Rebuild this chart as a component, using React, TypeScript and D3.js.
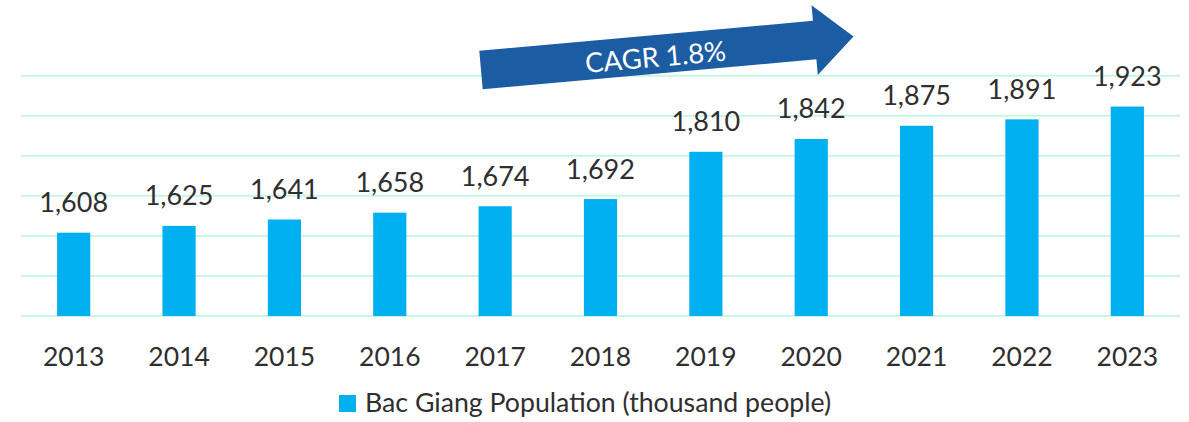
import React from "react";
import * as d3 from "d3";

const years = ["2013", "2014", "2015", "2016", "2017", "2018", "2019", "2020", "2021", "2022", "2023"];
const population = [1608, 1625, 1641, 1658, 1674, 1692, 1810, 1842, 1875, 1891, 1923];
const gridTicks = [1400, 1500, 1600, 1700, 1800, 1900, 2000];
const legendLabel = "Bac Giang Population (thousand people)";
const arrowLabel = "CAGR 1.8%";

const W = 1189;
const H = 422;
const FONT = "Lato, 'Open Sans', sans-serif";
const TEXT = "#2f2f2f";
const BAR = "#00b0f0";
const GRID = "#c8f6e4";
const ARROW = "#1b5ca3";

export default function App() {
  const x = d3.scaleBand<string>().domain(years).range([21, 1180]).paddingInner(0.685).paddingOuter(0.3425);
  const y = d3.scaleLinear().domain([1400, 2000]).range([316, 75.7]);
  const fmt = d3.format(",");

  // arrow in local coordinates
  const bodyLen = 335;
  const bodyHalf = 19.3;
  const headHalf = 35;
  const tipLen = 374;
  const arrowPath = d3.line()([
    [0, -bodyHalf],
    [bodyLen, -bodyHalf],
    [bodyLen, -headHalf],
    [tipLen, 0],
    [bodyLen, headHalf],
    [bodyLen, bodyHalf],
    [0, bodyHalf],
  ]) + "Z";

  return (
    <div style={{ position: "absolute", left: 0, top: 0 }}>
      <svg width={W} height={H} style={{ display: "block", background: "#fff" }}>
        <g>
          {gridTicks.map((t) => (
            <line key={t} x1={21} x2={1180} y1={y(t)} y2={y(t)} stroke={GRID} strokeWidth={2} />
          ))}
        </g>
        <g>
          {years.map((yr, i) => (
            <rect
              key={yr}
              x={x(yr)}
              y={y(population[i])}
              width={x.bandwidth()}
              height={y(1400) - y(population[i])}
              fill={BAR}
            />
          ))}
        </g>
        <g fontFamily={FONT} fontSize={27} fill={TEXT} textAnchor="middle">
          {years.map((yr, i) => (
            <text key={yr} x={(x(yr) as number) + x.bandwidth() / 2} y={y(population[i]) - 20.5}>
              {fmt(population[i])}
            </text>
          ))}
        </g>
        <g fontFamily={FONT} fontSize={26.5} fill={TEXT} textAnchor="middle">
          {years.map((yr) => (
            <text key={yr} x={(x(yr) as number) + x.bandwidth() / 2} y={366}>
              {yr}
            </text>
          ))}
        </g>
        <g transform="translate(481,70) rotate(-5.13)">
          <path d={arrowPath} fill={ARROW} />
          <text x={175} y={2} fontFamily={FONT} fontSize={27.5} fill="#ffffff" textAnchor="middle" dominantBaseline="central">
            {arrowLabel}
          </text>
        </g>
        <g>
          <rect x={339} y={395} width={17} height={17} fill={BAR} />
          <text x={365} y={412} fontFamily={FONT} fontSize={26.7} fill={TEXT}>
            {legendLabel}
          </text>
        </g>
      </svg>
    </div>
  );
}
